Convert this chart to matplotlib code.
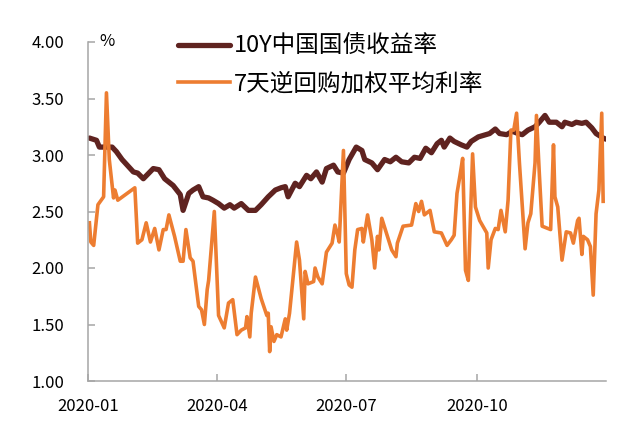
"""
Recreate the 10Y CGB yield vs 7-day reverse repo weighted rate chart (2020).
"""

import matplotlib as mpl

mpl.use("Agg")

import matplotlib.dates as mdates
import matplotlib.pyplot as plt
import pandas as pd

plt.rcParams["font.family"] = ["Noto Sans CJK SC", "DejaVu Sans"]

BOND_LABEL = "10Y中国国债收益率"
REPO_LABEL = "7天逆回购加权平均利率"

bond_dates = [
    "2020-01-02", "2020-01-07", "2020-01-09", "2020-01-18", "2020-01-21", "2020-01-25",
    "2020-02-02", "2020-02-05", "2020-02-09", "2020-02-16", "2020-02-20", "2020-02-24",
    "2020-02-28", "2020-03-01", "2020-03-06", "2020-03-08", "2020-03-12", "2020-03-15",
    "2020-03-19", "2020-03-22", "2020-03-26", "2020-03-29", "2020-04-02", "2020-04-06",
    "2020-04-10", "2020-04-13", "2020-04-18", "2020-04-23", "2020-04-28", "2020-05-02",
    "2020-05-07", "2020-05-12", "2020-05-16", "2020-05-19", "2020-05-21", "2020-05-26",
    "2020-05-29", "2020-06-03", "2020-06-06", "2020-06-10", "2020-06-14", "2020-06-17",
    "2020-06-22", "2020-06-25", "2020-06-29", "2020-07-03", "2020-07-08", "2020-07-12",
    "2020-07-14", "2020-07-19", "2020-07-23", "2020-07-28", "2020-08-01", "2020-08-05",
    "2020-08-09", "2020-08-14", "2020-08-18", "2020-08-22", "2020-08-26", "2020-08-30",
    "2020-09-03", "2020-09-06", "2020-09-08", "2020-09-12", "2020-09-15", "2020-09-20",
    "2020-09-24", "2020-09-27", "2020-10-02", "2020-10-10", "2020-10-14", "2020-10-17",
    "2020-10-22", "2020-10-26", "2020-10-30", "2020-11-02", "2020-11-06", "2020-11-11",
    "2020-11-14", "2020-11-18", "2020-11-21", "2020-11-26", "2020-11-30", "2020-12-02",
    "2020-12-07", "2020-12-10", "2020-12-14", "2020-12-17", "2020-12-21", "2020-12-24",
    "2020-12-29", "2020-12-31",
]
bond_yield = [
    3.15, 3.13, 3.07, 3.07, 3.03, 2.96,
    2.85, 2.84, 2.79, 2.88, 2.87, 2.79,
    2.75, 2.73, 2.65, 2.51, 2.66, 2.69,
    2.72, 2.63, 2.62, 2.60, 2.57, 2.53,
    2.56, 2.53, 2.57, 2.51, 2.51, 2.56,
    2.63, 2.69, 2.71, 2.72, 2.63, 2.75,
    2.72, 2.82, 2.79, 2.85, 2.76, 2.88,
    2.91, 2.85, 2.84, 2.96, 3.07, 3.04,
    2.96, 2.93, 2.87, 2.96, 2.94, 2.98,
    2.94, 2.93, 2.98, 2.97, 3.06, 3.02,
    3.10, 3.13, 3.07, 3.15, 3.12, 3.09,
    3.07, 3.12, 3.16, 3.19, 3.23, 3.19,
    3.18, 3.21, 3.19, 3.18, 3.22, 3.25,
    3.29, 3.35, 3.29, 3.29, 3.25, 3.29,
    3.27, 3.29, 3.28, 3.29, 3.24, 3.19,
    3.15, 3.14,
]

repo_dates = [
    "2020-01-02", "2020-01-03", "2020-01-05", "2020-01-08", "2020-01-12", "2020-01-14",
    "2020-01-16", "2020-01-19", "2020-01-20", "2020-01-22", "2020-02-03", "2020-02-05",
    "2020-02-08", "2020-02-11", "2020-02-14", "2020-02-17", "2020-02-20", "2020-02-23",
    "2020-02-25", "2020-02-27", "2020-03-02", "2020-03-06", "2020-03-08", "2020-03-10",
    "2020-03-13", "2020-03-15", "2020-03-19", "2020-03-21", "2020-03-23", "2020-03-25",
    "2020-03-26", "2020-03-30", "2020-04-02", "2020-04-06", "2020-04-09", "2020-04-12",
    "2020-04-15", "2020-04-18", "2020-04-21", "2020-04-22", "2020-04-24", "2020-04-25",
    "2020-04-28", "2020-05-02", "2020-05-06", "2020-05-07", "2020-05-08", "2020-05-09",
    "2020-05-11", "2020-05-13", "2020-05-16", "2020-05-19", "2020-05-20", "2020-05-22",
    "2020-05-27", "2020-05-29", "2020-06-01", "2020-06-02", "2020-06-04", "2020-06-08",
    "2020-06-09", "2020-06-11", "2020-06-14", "2020-06-17", "2020-06-21", "2020-06-23",
    "2020-06-25", "2020-06-26", "2020-06-29", "2020-07-01", "2020-07-03", "2020-07-05",
    "2020-07-07", "2020-07-09", "2020-07-12", "2020-07-13", "2020-07-16", "2020-07-19",
    "2020-07-21", "2020-07-23", "2020-07-24", "2020-07-26", "2020-07-29", "2020-08-02",
    "2020-08-05", "2020-08-06", "2020-08-10", "2020-08-16", "2020-08-19", "2020-08-21",
    "2020-08-23", "2020-08-25", "2020-08-29", "2020-09-01", "2020-09-06", "2020-09-10",
    "2020-09-13", "2020-09-15", "2020-09-17", "2020-09-19", "2020-09-21", "2020-09-23",
    "2020-09-25", "2020-09-28", "2020-09-30", "2020-10-03", "2020-10-08", "2020-10-09",
    "2020-10-11", "2020-10-14", "2020-10-16", "2020-10-18", "2020-10-21", "2020-10-23",
    "2020-10-25", "2020-10-27", "2020-10-29", "2020-10-31", "2020-11-04", "2020-11-06",
    "2020-11-08", "2020-11-11", "2020-11-12", "2020-11-14", "2020-11-16", "2020-11-20",
    "2020-11-22", "2020-11-24", "2020-11-25", "2020-11-27", "2020-11-30", "2020-12-03",
    "2020-12-06", "2020-12-08", "2020-12-11", "2020-12-12", "2020-12-14", "2020-12-15",
    "2020-12-18", "2020-12-20", "2020-12-22", "2020-12-24", "2020-12-26", "2020-12-28",
    "2020-12-29",
]
repo_rate = [
    2.40, 2.23, 2.20, 2.56, 2.63, 3.55,
    2.96, 2.62, 2.69, 2.60, 2.71, 2.22,
    2.25, 2.40, 2.23, 2.35, 2.16, 2.34,
    2.34, 2.47, 2.28, 2.06, 2.06, 2.34,
    2.09, 2.06, 1.66, 1.63, 1.50, 1.81,
    1.89, 2.50, 1.58, 1.47, 1.69, 1.72,
    1.41, 1.45, 1.47, 1.57, 1.39, 1.60,
    1.92, 1.73, 1.58, 1.60, 1.26, 1.48,
    1.35, 1.41, 1.39, 1.55, 1.45, 1.60,
    2.23, 2.07, 1.55, 1.97, 1.86, 1.88,
    2.00, 1.92, 1.86, 2.14, 2.22, 2.38,
    2.29, 2.23, 3.04, 1.95, 1.85, 1.83,
    2.16, 2.34, 2.35, 2.23, 2.47, 2.25,
    2.00, 2.28, 2.16, 2.44, 2.32, 2.16,
    2.10, 2.22, 2.37, 2.38, 2.57, 2.50,
    2.59, 2.47, 2.51, 2.32, 2.31, 2.20,
    2.25, 2.29, 2.66, 2.81, 2.97, 1.98,
    1.89, 3.01, 2.54, 2.42, 2.31, 2.00,
    2.25, 2.35, 2.34, 2.51, 2.32, 2.60,
    3.22, 3.22, 3.37, 2.93, 2.17, 2.40,
    2.48, 2.93, 3.35, 2.84, 2.37, 2.35,
    2.34, 3.09, 2.63, 2.54, 2.07, 2.32,
    2.31, 2.22, 2.42, 2.44, 2.12, 2.28,
    2.25, 2.19, 1.76, 2.48, 2.69, 3.37,
    2.59,
]

y_ticks = [1.0, 1.5, 2.0, 2.5, 3.0, 3.5, 4.0]

BOND_COLOR = "#5f2320"
REPO_COLOR = "#ed7d31"
AXIS_COLOR = "#a6a6a6"


def main():
    fig = plt.figure(figsize=(6.4, 4.21), dpi=100)
    ax = fig.add_axes([88 / 640, 40 / 421, (606 - 88) / 640, 339 / 421])

    ax.plot(pd.to_datetime(bond_dates), bond_yield, color=BOND_COLOR, lw=3.8,
            solid_capstyle="round", solid_joinstyle="round", label=BOND_LABEL)
    ax.plot(pd.to_datetime(repo_dates), repo_rate, color=REPO_COLOR, lw=2.6,
            solid_joinstyle="round", label=REPO_LABEL)

    ax.set_xlim(pd.Timestamp("2020-01-01"), pd.Timestamp("2020-12-31"))
    ax.set_ylim(1.0, 4.0)
    ax.set_yticks(y_ticks)
    ax.yaxis.set_major_formatter(mpl.ticker.FormatStrFormatter("%.2f"))
    ax.xaxis.set_major_locator(mdates.MonthLocator(bymonth=[1, 4, 7, 10]))
    ax.xaxis.set_major_formatter(mdates.DateFormatter("%Y-%m"))

    for side in ("top", "right"):
        ax.spines[side].set_visible(False)
    for side in ("left", "bottom"):
        ax.spines[side].set_color(AXIS_COLOR)
        ax.spines[side].set_linewidth(1.1)
    ax.tick_params(axis="both", direction="in", length=5, width=1.1,
                   color=AXIS_COLOR, labelsize=12, labelcolor="black")
    ax.tick_params(axis="y", pad=17)
    ax.tick_params(axis="x", pad=12)

    ax.annotate("%", xy=(0, 1), xycoords="axes fraction", xytext=(8, 0),
                textcoords="offset points", ha="left", va="center", fontsize=12)

    ax.legend(loc="upper left", bbox_to_anchor=(178 / 640, 1 - 35 / 421),
              bbox_transform=fig.transFigure, frameon=False, fontsize=17,
              handlelength=2.2, handletextpad=0.15, labelspacing=0.6,
              borderpad=0, borderaxespad=0)

    fig.savefig("out.png", dpi=100)
    plt.close(fig)


if __name__ == "__main__":
    main()
